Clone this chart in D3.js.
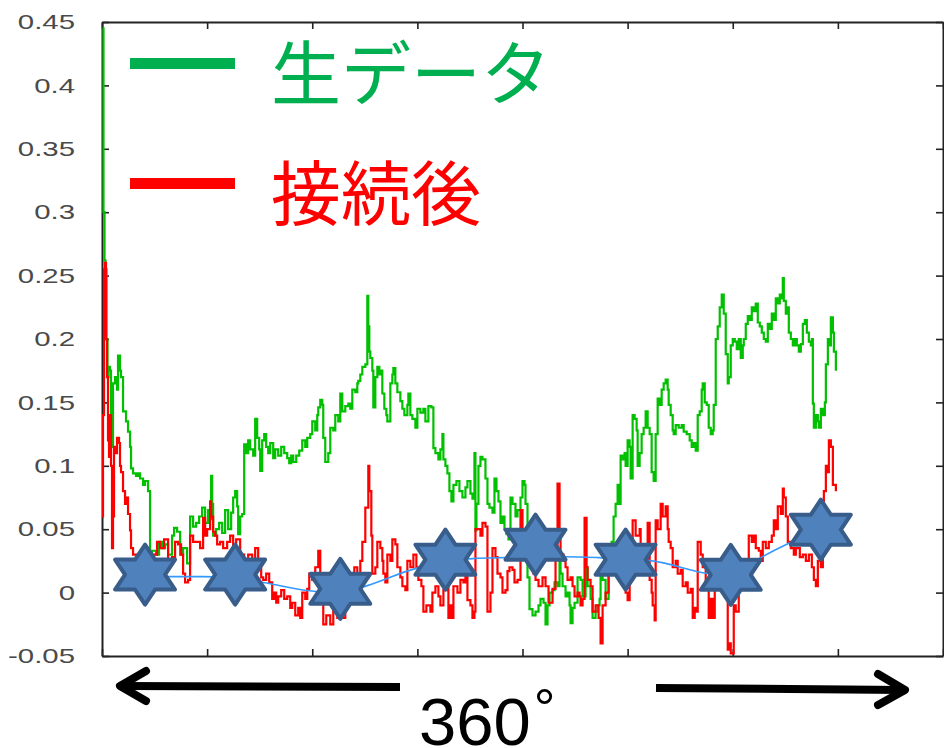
<!DOCTYPE html>
<html>
<head>
<meta charset="utf-8">
<script src="https://cdn.jsdelivr.net/npm/d3@7"></script>
<style>
  body { margin: 0; background: #fff; }
  svg { display: block; }
</style>
</head>
<body>
<svg id="chart" width="944" height="748"></svg>
<script>
// x is in sample units (840 across, a tick every 105), y is the measured value
const xTicks = [0, 105, 210, 315, 420, 525, 630, 735, 840];
const yTicks = [-0.05, 0, 0.05, 0.1, 0.15, 0.2, 0.25, 0.3, 0.35, 0.4, 0.45];
const yTickLabels = ['-0.05', '0', '0.05', '0.1', '0.15', '0.2', '0.25', '0.3', '0.35', '0.4', '0.45'];

const legendLabels = ['生データ', '接続後'];
const axisCaption = '360';

// raw data (green)
const rawData = [
  [0.5, 0.445], [1.5, 0.30], [2.5, 0.262], [3.5, 0.255], [4.5, 0.20], [5.5, 0.17], [6.5, 0.178],
  [8, 0.175], [9, 0.12], [10, 0.115], [11, 0.165], [13, 0.17], [15, 0.16], [16, 0.187], [18, 0.175],
  [19, 0.17], [21, 0.143], [24, 0.135], [26, 0.127], [28, 0.115], [29, 0.098], [31, 0.094], [34, 0.092],
  [36, 0.094], [38, 0.09], [41, 0.085], [43, 0.088], [46, 0.08], [48, 0.031], [50, 0.033], [54, 0.03],
  [57, 0.04], [60, 0.035], [63, 0.038], [66, 0.03], [70, 0.045], [72, 0.051], [75, 0.048], [78, 0.03],
  [81, 0.035], [85, 0.023], [88, 0.06], [91, 0.052], [94, 0.055], [97, 0.06], [100, 0.067], [103, 0.055],
  [106, 0.065], [108, 0.058], [109, 0.092], [110, 0.07], [111, 0.045], [114, 0.05], [117, 0.055],
  [120, 0.047], [123, 0.065], [126, 0.05], [129, 0.063], [131, 0.075], [133, 0.08], [135, 0.068],
  [136, 0.046], [138, 0.06], [140, 0.062], [142, 0.117], [144, 0.11], [146, 0.12], [148, 0.113],
  [151, 0.108], [153, 0.137], [155, 0.122], [157, 0.113], [158, 0.096], [160, 0.12], [162, 0.125],
  [164, 0.115], [166, 0.11], [168, 0.118], [171, 0.106], [173, 0.113], [176, 0.108], [179, 0.115],
  [182, 0.11], [185, 0.106], [187, 0.102], [189, 0.108], [191, 0.103], [194, 0.108], [197, 0.112],
  [200, 0.12], [203, 0.115], [205, 0.122], [208, 0.125], [210, 0.135], [213, 0.128], [215, 0.14],
  [216, 0.146], [218, 0.152], [220, 0.148], [221, 0.122], [223, 0.103], [226, 0.11], [228, 0.13],
  [231, 0.128], [233, 0.14], [236, 0.135], [238, 0.157], [240, 0.143], [243, 0.147], [246, 0.149],
  [248, 0.145], [250, 0.16], [253, 0.158], [255, 0.165], [256, 0.167], [258, 0.172], [260, 0.178],
  [263, 0.18], [265, 0.234], [266, 0.21], [267, 0.19], [268, 0.185], [270, 0.175], [271, 0.146],
  [273, 0.17], [275, 0.178], [277, 0.172], [279, 0.175], [280, 0.157], [282, 0.145], [284, 0.14],
  [285, 0.135], [288, 0.165], [290, 0.172], [291, 0.177], [293, 0.165], [295, 0.158], [298, 0.151],
  [300, 0.145], [302, 0.14], [305, 0.148], [306, 0.157], [308, 0.14], [310, 0.137], [313, 0.13],
  [315, 0.145], [318, 0.142], [321, 0.145], [323, 0.135], [326, 0.147], [329, 0.146], [331, 0.114],
  [333, 0.11], [336, 0.105], [338, 0.113], [340, 0.125], [341, 0.105], [343, 0.1], [345, 0.094],
  [347, 0.08], [349, 0.072], [351, 0.085], [354, 0.088], [357, 0.08], [360, 0.075], [363, 0.083],
  [365, 0.088], [368, 0.078], [370, 0.074], [372, 0.11], [373, 0.049], [374, 0.07], [376, 0.1],
  [378, 0.107], [380, 0.105], [383, 0.09], [385, 0.07], [387, 0.067], [390, 0.063], [392, 0.09],
  [394, 0.08], [396, 0.072], [398, 0.055], [400, 0.06], [402, 0.05], [404, 0.046], [406, 0.042],
  [408, 0.075], [410, 0.07], [413, 0.06], [415, 0.065], [418, 0.075], [420, 0.088], [422, 0.085],
  [423, 0.07], [425, 0.012], [427, -0.013], [430, -0.018], [433, -0.015], [436, -0.01], [438, -0.005],
  [441, -0.008], [443, -0.025], [445, -0.01], [447, 0.0], [450, 0.002], [452, 0.008], [455, 0.005],
  [457, 0.03], [458, 0.015], [460, 0.005], [463, -0.003], [465, 0.0], [467, -0.01], [468, -0.024],
  [470, -0.012], [472, -0.008], [475, 0.012], [478, 0.01], [480, -0.003], [483, 0.02], [485, 0.005],
  [488, -0.005], [490, -0.02], [493, -0.015], [495, -0.01], [497, -0.005], [498, 0.017], [500, 0.01],
  [503, -0.005], [506, 0.02], [509, 0.04], [511, 0.06], [513, 0.07], [515, 0.085], [517, 0.07],
  [518, 0.108], [520, 0.105], [522, 0.11], [523, 0.1], [525, 0.12], [527, 0.115], [528, 0.09],
  [530, 0.14], [532, 0.137], [534, 0.128], [535, 0.1], [537, 0.11], [539, 0.125], [541, 0.13],
  [543, 0.143], [545, 0.13], [547, 0.125], [549, 0.095], [551, 0.088], [553, 0.125], [555, 0.153],
  [557, 0.148], [559, 0.16], [561, 0.165], [563, 0.168], [565, 0.16], [566, 0.148], [568, 0.14],
  [570, 0.128], [571, 0.125], [573, 0.132], [576, 0.13], [579, 0.132], [581, 0.127], [584, 0.125],
  [587, 0.12], [589, 0.115], [591, 0.118], [593, 0.112], [595, 0.14], [597, 0.143], [599, 0.16],
  [600, 0.165], [602, 0.15], [604, 0.148], [606, 0.13], [608, 0.125], [610, 0.128], [611, 0.148],
  [613, 0.2], [615, 0.21], [617, 0.225], [619, 0.235], [621, 0.22], [623, 0.188], [625, 0.165],
  [626, 0.17], [628, 0.195], [630, 0.2], [632, 0.198], [634, 0.192], [636, 0.2], [638, 0.185],
  [640, 0.195], [641, 0.2], [643, 0.212], [645, 0.218], [647, 0.215], [649, 0.225], [651, 0.222],
  [653, 0.228], [655, 0.213], [657, 0.21], [659, 0.205], [661, 0.2], [663, 0.198], [665, 0.212],
  [667, 0.208], [669, 0.22], [671, 0.215], [673, 0.232], [675, 0.228], [677, 0.235], [679, 0.232],
  [680, 0.248], [681, 0.23], [683, 0.22], [685, 0.225], [686, 0.205], [688, 0.2], [690, 0.195],
  [692, 0.2], [694, 0.195], [696, 0.19], [698, 0.196], [700, 0.212], [702, 0.215], [704, 0.205],
  [706, 0.198], [708, 0.195], [709, 0.2], [710, 0.149], [711, 0.13], [713, 0.14], [715, 0.135],
  [716, 0.13], [718, 0.145], [720, 0.14], [722, 0.15], [723, 0.18], [725, 0.2], [726, 0.195],
  [728, 0.217], [730, 0.205], [731, 0.19], [733, 0.175]
];

// after joining (red)
const joinedData = [
  [0, 0.06], [1, 0.14], [2, 0.255], [3, 0.26], [4, 0.2], [5, 0.17], [6, 0.12], [7, 0.107], [8, 0.14],
  [9, 0.1], [10, 0.035], [11, 0.06], [12, 0.115], [14, 0.11], [15, 0.122], [17, 0.118], [18, 0.1],
  [19, 0.095], [21, 0.08], [23, 0.07], [25, 0.075], [26, 0.062], [28, 0.049], [29, 0.035], [31, 0.03],
  [35, 0.028], [40, 0.03], [45, 0.025], [50, 0.03], [55, 0.04], [58, 0.035], [62, 0.042], [66, 0.025],
  [70, 0.028], [73, 0.04], [76, 0.038], [79, 0.03], [81, 0.015], [83, 0.008], [86, 0.01], [88, 0.045],
  [91, 0.04], [95, 0.04], [98, 0.035], [101, 0.059], [103, 0.045], [105, 0.05], [108, 0.072], [109, 0.06],
  [111, 0.048], [113, 0.045], [115, 0.038], [118, 0.04], [121, 0.035], [125, 0.04], [128, 0.045],
  [131, 0.035], [134, 0.042], [138, 0.03], [142, 0.025], [146, 0.03], [150, 0.02], [153, 0.035],
  [156, 0.02], [159, 0.012], [161, 0.01], [164, 0.015], [167, 0.008], [170, -0.005], [172, 0.0],
  [174, -0.008], [176, -0.003], [179, 0.002], [182, -0.005], [185, -0.003], [188, -0.012], [190, -0.008],
  [193, -0.018], [196, -0.012], [198, -0.02], [200, 0.0], [203, -0.005], [205, 0.003], [207, 0.015],
  [210, 0.01], [213, 0.02], [216, 0.033], [218, 0.01], [221, -0.025], [224, -0.018], [228, -0.025],
  [231, -0.01], [235, -0.02], [238, -0.015], [240, -0.02], [243, -0.005], [246, 0.005], [249, 0.015],
  [252, 0.02], [255, 0.01], [258, 0.025], [260, 0.04], [263, 0.067], [266, 0.1], [267, 0.08], [269, 0.045],
  [270, 0.015], [273, 0.02], [275, 0.04], [278, 0.035], [280, 0.025], [281, 0.015], [283, 0.008],
  [285, 0.03], [288, 0.025], [290, 0.042], [293, 0.038], [295, 0.02], [298, 0.012], [300, 0.005],
  [303, 0.002], [305, 0.025], [308, 0.02], [311, 0.03], [314, 0.02], [316, 0.01], [319, 0.005],
  [321, -0.015], [324, -0.01], [328, -0.015], [330, 0.0], [333, 0.005], [336, -0.003], [338, -0.01],
  [341, 0.002], [344, 0.01], [346, -0.02], [348, -0.01], [350, -0.02], [351, 0.005], [355, 0.0],
  [358, 0.01], [361, 0.008], [363, 0.015], [365, -0.006], [368, -0.01], [370, -0.02], [372, -0.015],
  [373, 0.05], [375, 0.05], [378, 0.045], [380, 0.055], [383, 0.052], [385, -0.015], [388, 0.0],
  [390, 0.035], [393, 0.028], [395, 0.015], [398, 0.012], [400, 0.0], [403, 0.002], [405, 0.017],
  [407, 0.02], [410, 0.018], [412, 0.008], [415, 0.01], [418, 0.065], [420, 0.05], [422, 0.04],
  [425, 0.03], [428, 0.02], [431, 0.015], [433, 0.01], [436, 0.005], [440, 0.012], [443, 0.005],
  [446, -0.008], [450, 0.003], [453, 0.03], [455, 0.086], [457, 0.05], [458, 0.03], [461, 0.025],
  [463, 0.02], [465, 0.01], [468, 0.012], [470, 0.005], [472, -0.003], [475, 0.0], [477, -0.003],
  [478, -0.01], [480, -0.005], [482, 0.059], [484, 0.02], [485, 0.01], [488, 0.005], [490, -0.015],
  [493, -0.01], [496, -0.02], [498, -0.04], [500, -0.01], [503, 0.0], [506, 0.015], [510, 0.02],
  [513, 0.025], [517, 0.012], [520, 0.01], [523, 0.0], [525, -0.006], [527, 0.02], [530, 0.057],
  [533, 0.045], [537, 0.05], [538, 0.03], [541, 0.035], [543, 0.025], [545, 0.055], [547, 0.01],
  [549, 0.0], [550, -0.01], [552, -0.022], [553, 0.057], [555, 0.05], [558, 0.07], [560, 0.06],
  [563, 0.068], [565, 0.05], [566, 0.04], [568, 0.035], [570, 0.02], [573, 0.025], [575, 0.015],
  [578, 0.018], [580, 0.005], [583, 0.008], [585, 0.0], [588, 0.003], [590, -0.02], [592, -0.012],
  [593, -0.015], [595, 0.04], [598, 0.03], [600, 0.02], [603, 0.005], [606, -0.02], [608, -0.005],
  [610, -0.02], [612, 0.01], [615, 0.015], [618, 0.005], [622, -0.003], [625, -0.045], [627, -0.04],
  [628, -0.048], [631, -0.01], [633, -0.015], [636, 0.005], [640, 0.01], [643, 0.02], [646, 0.045],
  [649, 0.04], [651, 0.045], [653, 0.035], [656, 0.033], [658, 0.025], [660, 0.04], [663, 0.035],
  [666, 0.04], [669, 0.045], [671, 0.057], [673, 0.05], [675, 0.068], [678, 0.062], [680, 0.082],
  [681, 0.075], [683, 0.06], [685, 0.04], [688, 0.035], [691, 0.03], [693, 0.035], [697, 0.028],
  [700, 0.03], [703, 0.025], [706, 0.03], [709, 0.02], [711, 0.01], [713, 0.005], [715, 0.025],
  [718, 0.02], [720, 0.07], [721, 0.08], [723, 0.1], [725, 0.095], [726, 0.12], [728, 0.115],
  [730, 0.085], [733, 0.08]
];

// smoothed trend (thin blue) and the star markers
const trendLine = [
  [43, 0.0126], [75, 0.0126], [101, 0.0126], [161, 0.0079], [205, 0.0016], [238, 0.0], [265, 0.0055],
  [313, 0.0189], [343, 0.0236], [370, 0.0268], [403, 0.0276], [463, 0.0283], [496, 0.0276],
  [548, 0.0252], [605, 0.015], [628, 0.0126], [658, 0.0276], [685, 0.0386], [718, 0.0496]
];
const starX = [43, 133, 238, 343, 433, 523, 628, 718];
const starY = [0.0142, 0.0142, 0.003, 0.026, 0.0378, 0.026, 0.014, 0.0496];

const svg = d3.select('#chart');
const plotLeft = 102, plotRight = 943, plotTop = 22, plotBottom = 656;

const x = d3.scaleLinear().domain([0, 840]).range([plotLeft, plotRight]);
const y = d3.scaleLinear().domain([-0.05, 0.45]).range([plotBottom, plotTop]);

svg.append('defs').append('clipPath').attr('id', 'plot-clip')
  .append('rect')
    .attr('x', plotLeft).attr('y', plotTop)
    .attr('width', plotRight - plotLeft).attr('height', plotBottom - plotTop);

// frame + inward ticks on all four sides
const axisColor = '#222';
function styleAxis (g) {
  g.select('.domain').attr('stroke', axisColor).attr('stroke-width', 2);
  g.selectAll('.tick line').attr('stroke', axisColor).attr('stroke-width', 1.6);
}

svg.append('g')
  .attr('transform', `translate(${plotLeft},0)`)
  .call(d3.axisLeft(y).tickValues(yTicks).tickSize(-7).tickSizeOuter(0)
    .tickFormat((d, i) => yTickLabels[i]))
  .call(styleAxis)
  .call(g => g.selectAll('.tick text')
    .attr('x', null)
    .attr('transform', 'translate(-27,0) scale(1.4,1)')
    .attr('fill', '#4a4a4a')
    .attr('font-family', '"Liberation Sans", Arial, sans-serif')
    .attr('font-size', 21));

svg.append('g')
  .attr('transform', `translate(${plotRight},0)`)
  .call(d3.axisRight(y).tickValues(yTicks).tickSize(-7).tickSizeOuter(0).tickFormat(''))
  .call(styleAxis);

svg.append('g')
  .attr('transform', `translate(0,${plotTop})`)
  .call(d3.axisTop(x).tickValues(xTicks).tickSize(-7).tickSizeOuter(0).tickFormat(''))
  .call(styleAxis);

svg.append('g')
  .attr('transform', `translate(0,${plotBottom})`)
  .call(d3.axisBottom(x).tickValues(xTicks).tickSize(-7).tickSizeOuter(0).tickFormat(''))
  .call(styleAxis);

// the two noisy series
const stepLine = d3.line()
  .x(d => x(d[0]))
  .y(d => y(d[1]))
  .curve(d3.curveStepAfter);

const plot = svg.append('g').attr('clip-path', 'url(#plot-clip)');

plot.append('path')
  .datum(rawData)
  .attr('fill', 'none')
  .attr('stroke', '#00c000')
  .attr('stroke-width', 2.2)
  .attr('d', stepLine);

plot.append('path')
  .datum(joinedData)
  .attr('fill', 'none')
  .attr('stroke', '#ff0000')
  .attr('stroke-width', 2.2)
  .attr('d', stepLine);

plot.append('path')
  .datum(trendLine)
  .attr('fill', 'none')
  .attr('stroke', '#3399ff')
  .attr('stroke-width', 1.6)
  .attr('d', d3.line().x(d => x(d[0])).y(d => y(d[1])).curve(d3.curveMonotoneX));

// six-pointed stars, stretched so they fill a square box
function starPoints (cx, cy) {
  const R = 30, r = R / Math.sqrt(3), sx = 2 / Math.sqrt(3);
  return d3.range(12).map(i => {
    let a = -Math.PI / 2 + i * Math.PI / 6,
        rad = i % 2 ? r : R;
    return [cx + Math.cos(a) * rad * sx, cy + Math.sin(a) * rad];
  });
}
const closed = d3.line().curve(d3.curveLinearClosed);

svg.append('g').selectAll('path')
  .data(starX.map((d, i) => [d, starY[i]]))
  .join('path')
    .attr('d', d => closed(starPoints(x(d[0]), y(d[1]))))
    .attr('fill', '#4f81bd')
    .attr('stroke', '#385d8a')
    .attr('stroke-width', 4)
    .attr('stroke-linejoin', 'round');

// legend
const legendColors = ['#00b050', '#ff0000'];
const legendY = [63.5, 183.5];
const legend = svg.append('g');
legendLabels.forEach((label, i) => {
  legend.append('line')
    .attr('x1', 130).attr('x2', 235)
    .attr('y1', legendY[i]).attr('y2', legendY[i])
    .attr('stroke', legendColors[i])
    .attr('stroke-width', 11);
  legend.append('text')
    .attr('x', 271)
    .attr('y', legendY[i] + 36)
    .attr('fill', legendColors[i])
    .attr('font-family', '"Noto Sans CJK JP", sans-serif')
    .attr('font-size', 70)
    .text(label);
});

// 360° arrows under the axis
const arrows = svg.append('g')
  .attr('stroke', '#000')
  .attr('stroke-width', 8)
  .attr('fill', 'none');

arrows.append('line').attr('x1', 122).attr('y1', 686).attr('x2', 400).attr('y2', 687);
arrows.append('polyline')
  .attr('points', '146,671 120,686 146,701')
  .attr('stroke-linecap', 'round').attr('stroke-linejoin', 'round');
arrows.append('line').attr('x1', 656).attr('y1', 688).attr('x2', 903).attr('y2', 690);
arrows.append('polyline')
  .attr('points', '878,674 905,690 878,705')
  .attr('stroke-linecap', 'round').attr('stroke-linejoin', 'round');

const caption = svg.append('text')
  .attr('x', 419)
  .attr('y', 745)
  .attr('fill', '#000')
  .attr('font-family', '"Liberation Sans", Arial, sans-serif')
  .attr('font-size', 67)
  .text(axisCaption);
caption.append('tspan')
  .attr('dx', 3)
  .attr('dy', -18)
  .attr('font-size', 54)
  .text('°');
</script>
</body>
</html>
